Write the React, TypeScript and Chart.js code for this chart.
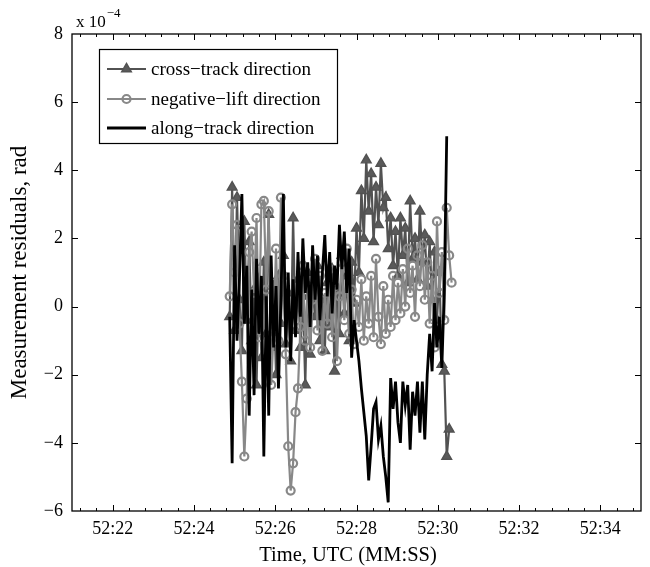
import { useEffect, useRef } from "react";
import { Chart, registerables } from "chart.js";

Chart.register(...registerables);

const FONT = "'Liberation Serif', 'Times New Roman', Times, serif";

// Sample times, seconds past 52:00 UTC
const sampleSec = [
  24.88, 24.94, 25.0, 25.06, 25.12, 25.18, 25.24, 25.3, 25.36, 25.42,
  25.48, 25.54, 25.6, 25.66, 25.72, 25.78, 25.84, 25.9, 25.96, 26.02,
  26.08, 26.14, 26.2, 26.26, 26.32, 26.38, 26.44, 26.5, 26.56, 26.62,
  26.68, 26.74, 26.8, 26.86, 26.92, 26.98, 27.04, 27.1, 27.16, 27.22,
  27.28, 27.34, 27.4, 27.46, 27.52, 27.58, 27.64, 27.7, 27.76, 27.82,
  27.88, 27.94, 28.0, 28.06, 28.12, 28.18, 28.24, 28.3, 28.36, 28.42,
  28.48, 28.54, 28.6, 28.66, 28.72, 28.78, 28.84, 28.9, 28.96, 29.02,
  29.08, 29.14, 29.2, 29.26, 29.32, 29.38, 29.44, 29.5, 29.56, 29.62,
  29.68, 29.74, 29.8, 29.86, 29.92, 29.98, 30.04, 30.1, 30.16, 30.22,
  30.28, 30.34,
];

// Residuals in units of 1e-4 rad
const crossTrack = [
  -0.3, 3.5, -0.7, 3.2, 0.2, -1.3, 2.5, -0.4, 1.9, -1.0,
  0.5, -2.3, 0.8, -1.5, 1.3, -0.8, 2.7, -1.2, 0.6, -2.0,
  0.9, -0.5, 1.5, -1.1, 0.4, -1.6, 2.6, -0.7, 0.8, -1.2,
  0.3, -2.3, 1.0, -1.4, 0.5, -0.3, 1.2, -1.0, 0.2, -1.3,
  0.7, -0.6, 1.1, -1.9, 0.4, -0.8, 1.5, -0.2, 0.9, -1.0,
  1.3, 0.1, 2.3, 1.0, 3.4, 2.0, 4.3, 2.8, 3.9, 1.9,
  3.5, 2.4, 4.2, 2.9, 3.2, 1.7, 2.6, 1.2, 2.2, 0.9,
  2.6, 1.5, 2.3, 0.7, 3.1, 1.4, 2.0, 0.8, 2.8, 1.3,
  2.1, 0.6, 1.9, 0.2, 1.6, -0.4, 1.0, -1.7, -1.9, -4.4,
  -3.6, null,
];

const negativeLift = [
  0.3, 3.0, 1.0, 2.4, -0.5, -2.2, -4.4, -2.7, 1.6, 2.2,
  0.4, 2.6, -0.9, 3.0, 3.1, 0.5, 2.8, -2.3, -0.8, 1.7,
  -1.0, 3.2, 0.9, -1.4, -4.1, -5.4, -4.6, -3.1, -2.4, -0.6,
  1.2, -1.0, 0.6, -1.2, 0.2, 1.4, -0.7, 0.9, -1.3, 0.4,
  -0.5, 1.1, -0.9, 0.6, -1.6, 0.3, 1.3, -0.4, 1.7, -0.8,
  0.5, -1.1, 0.2, -0.6, 0.8, -1.0, 0.3, -0.5, 0.9, -0.9,
  1.4, -0.3, -1.1, 0.6, -0.8, 0.2, -0.6, 0.9, -0.4, 0.7,
  -0.2, 1.1, 0.0, 1.7, 0.4, 1.2, -0.3, 1.5, 0.6, 1.8,
  0.2, 1.3, -0.5, 0.9, -1.2, 2.5, 0.4, 1.6, -0.4, 2.9,
  1.5, 0.7,
];

const alongTrack = [
  -0.3, -4.6, 1.8, -1.0, 0.8, 3.3, -0.5, 1.2, -3.2, 0.5,
  -2.6, 1.4, -0.8, 0.9, -4.4, 0.3, -3.2, 1.5, -1.2, 0.6,
  -2.4, 0.2, 3.3, -1.2, 1.0, -1.6, 0.8, -0.9, 1.6, -0.3,
  2.0, 0.4, 1.3, -0.6, 1.8, 0.2, 1.5, -0.4, 1.0, 2.1,
  0.3, 1.6, -0.2, 1.2, 0.5, 2.4, 1.1, 2.2, 0.4, 1.7,
  -1.5, -0.4, -1.0, -1.6, -2.4, -3.1, -3.8, -5.1, -4.1, -3.0,
  -2.8, -3.9, -3.5, -4.4, -5.0, -5.75, -2.1, -3.0, -2.2, -3.4,
  -4.0, -2.2, -2.9, -2.3, -4.2, -2.5, -3.2, -2.2, -3.7, -2.2,
  -3.9, -2.0, -0.8, -1.9, 0.1, -1.2, -0.3, -1.8, 0.5, 5.0,
  null, null,
];

const legendLabels = [
  "cross\u2212track direction",
  "negative\u2212lift direction",
  "along\u2212track direction",
];
const seriesColors = ["#525252", "#888888", "#000000"];
const xTitle = "Time, UTC (MM:SS)";
const yTitle = "Measurement residuals, rad";

const xMajorTicks = [22, 24, 26, 28, 30, 32, 34];
const X_MIN = 21;
const X_MAX = 35;
const Y_MIN = -6;
const Y_MAX = 8;
const Y_STEP = 2;

const timeLabel = (sec: number) => `52:${String(Math.round(sec)).padStart(2, "0")}`;
const minus = (v: number) => String(v).replace("-", "\u2212");

const toPoints = (vals: (number | null)[]) =>
  sampleSec.map((t, i) => ({ x: t, y: vals[i] }));

// Box, inward tick marks, exponent label, x label and legend
const framePlugin = {
  id: "frame",
  afterDatasetsDraw(chart: any) {
    const { ctx, chartArea: a, scales } = chart;
    const xs = scales.x;
    const ys = scales.y;
    ctx.save();

    // axes box
    ctx.strokeStyle = "#000";
    ctx.lineWidth = 1.3;
    ctx.strokeRect(a.left, a.top, a.right - a.left, a.bottom - a.top);

    ctx.lineWidth = 1;
    ctx.beginPath();
    for (let k = 0; k < 40; k++) {
      const v = Math.round((21.2 + 0.4 * k) * 10) / 10;
      if (v >= X_MAX) break;
      const px = Math.round(xs.getPixelForValue(v)) + 0.5;
      const len = xMajorTicks.includes(v) ? 6 : 3;
      ctx.moveTo(px, a.bottom);
      ctx.lineTo(px, a.bottom - len);
      ctx.moveTo(px, a.top);
      ctx.lineTo(px, a.top + len);
    }
    for (let v = Y_MIN + Y_STEP; v < Y_MAX; v += Y_STEP) {
      const py = Math.round(ys.getPixelForValue(v)) + 0.5;
      ctx.moveTo(a.left, py);
      ctx.lineTo(a.left + 6, py);
      ctx.moveTo(a.right, py);
      ctx.lineTo(a.right - 6, py);
    }
    ctx.stroke();

    // scale factor label
    ctx.fillStyle = "#000";
    ctx.textBaseline = "alphabetic";
    ctx.textAlign = "left";
    ctx.font = `17px ${FONT}`;
    ctx.fillText("x 10", a.left + 4, 27);
    const w = ctx.measureText("x 10").width;
    ctx.font = `13px ${FONT}`;
    ctx.fillText("\u22124", a.left + 4 + w + 1, 17);

    // x axis label
    ctx.font = `20.5px ${FONT}`;
    ctx.textAlign = "center";
    ctx.textBaseline = "middle";
    ctx.fillText(xTitle, 348, 556);

    // legend
    ctx.textAlign = "left";
    const bx = 99, by = 49, bw = 238, bh = 94;
    ctx.fillStyle = "#fff";
    ctx.fillRect(bx, by, bw, bh);
    ctx.strokeStyle = "#000";
    ctx.lineWidth = 1.2;
    ctx.strokeRect(bx + 0.5, by + 0.5, bw, bh);
    const rows = [69, 99, 128];
    chart.data.datasets.forEach((ds: any, i: number) => {
      const y = rows[i];
      ctx.strokeStyle = ds.borderColor;
      ctx.lineWidth = ds.borderWidth;
      ctx.beginPath();
      ctx.moveTo(107, y);
      ctx.lineTo(146, y);
      ctx.stroke();
      if (ds.pointRadius > 0) {
        ctx.fillStyle = ds.pointBackgroundColor;
        ctx.strokeStyle = ds.pointBorderColor;
        ctx.lineWidth = ds.pointBorderWidth;
        ctx.beginPath();
        if (ds.pointStyle === "triangle") {
          const r = ds.pointRadius;
          ctx.moveTo(126.5, y - r);
          ctx.lineTo(126.5 + r * 0.866, y + r * 0.5);
          ctx.lineTo(126.5 - r * 0.866, y + r * 0.5);
          ctx.closePath();
          ctx.fill();
          ctx.stroke();
        } else {
          ctx.arc(126.5, y, ds.pointRadius, 0, Math.PI * 2);
          ctx.stroke();
        }
      }
      ctx.fillStyle = "#000";
      ctx.font = `19px ${FONT}`;
      ctx.textBaseline = "middle";
      ctx.fillText(ds.label, 151, y + 1);
    });

    ctx.restore();
  },
};

export default function App() {
  const canvasRef = useRef<HTMLCanvasElement | null>(null);

  useEffect(() => {
    const canvas = canvasRef.current;
    if (!canvas) return;
    const chart = new Chart(canvas, {
      type: "line",
      data: {
        datasets: [
          {
            label: legendLabels[0],
            data: toPoints(crossTrack),
            borderColor: seriesColors[0],
            borderWidth: 2.2,
            pointStyle: "triangle",
            pointRadius: 5.6,
            pointBackgroundColor: "#5a5a5a",
            pointBorderColor: seriesColors[0],
            pointBorderWidth: 1.4,
            order: 3,
          },
          {
            label: legendLabels[1],
            data: toPoints(negativeLift),
            borderColor: seriesColors[1],
            borderWidth: 2.2,
            pointStyle: "circle",
            pointRadius: 4,
            pointBackgroundColor: "rgba(255,255,255,0)",
            pointBorderColor: seriesColors[1],
            pointBorderWidth: 2.2,
            order: 2,
          },
          {
            label: legendLabels[2],
            data: toPoints(alongTrack),
            borderColor: seriesColors[2],
            borderWidth: 2.8,
            pointRadius: 0,
            pointBackgroundColor: seriesColors[2],
            pointBorderColor: seriesColors[2],
            pointBorderWidth: 0,
            order: 1,
          },
        ],
      },
      options: {
        animation: false,
        responsive: false,
        devicePixelRatio: 1,
        events: [],
        layout: { padding: { left: 0, right: 9, top: 34, bottom: 0 } },
        plugins: {
          legend: { display: false },
          tooltip: { enabled: false },
        },
        elements: { line: { tension: 0 } },
        scales: {
          x: {
            type: "linear",
            min: X_MIN,
            max: X_MAX,
            grid: { display: false, drawTicks: false },
            border: { display: false },
            afterBuildTicks: (s: any) => {
              s.ticks = xMajorTicks.map((v) => ({ value: v }));
            },
            afterFit: (s: any) => {
              s.height = 56;
            },
            ticks: {
              autoSkip: false,
              maxRotation: 0,
              padding: 7,
              color: "#000",
              font: { family: FONT, size: 18 },
              callback: (v: any) => timeLabel(Number(v)),
            },
          },
          y: {
            type: "linear",
            min: Y_MIN,
            max: Y_MAX,
            grid: { display: false, drawTicks: false },
            border: { display: false },
            afterFit: (s: any) => {
              s.width = 72;
            },
            ticks: {
              stepSize: Y_STEP,
              padding: 9,
              color: "#000",
              font: { family: FONT, size: 18 },
              callback: (v: any) => minus(Number(v)),
            },
            title: {
              display: true,
              text: yTitle,
              color: "#000",
              font: { family: FONT, size: 23, lineHeight: 1.2 },
              padding: { top: 6, bottom: 0 },
            },
          },
        },
      },
      plugins: [framePlugin],
    });
    return () => chart.destroy();
  }, []);

  return (
    <div style={{ position: "fixed", left: 0, top: 0, width: 650, height: 567, background: "#fff" }}>
      <canvas ref={canvasRef} width={650} height={567} style={{ display: "block" }} />
    </div>
  );
}
